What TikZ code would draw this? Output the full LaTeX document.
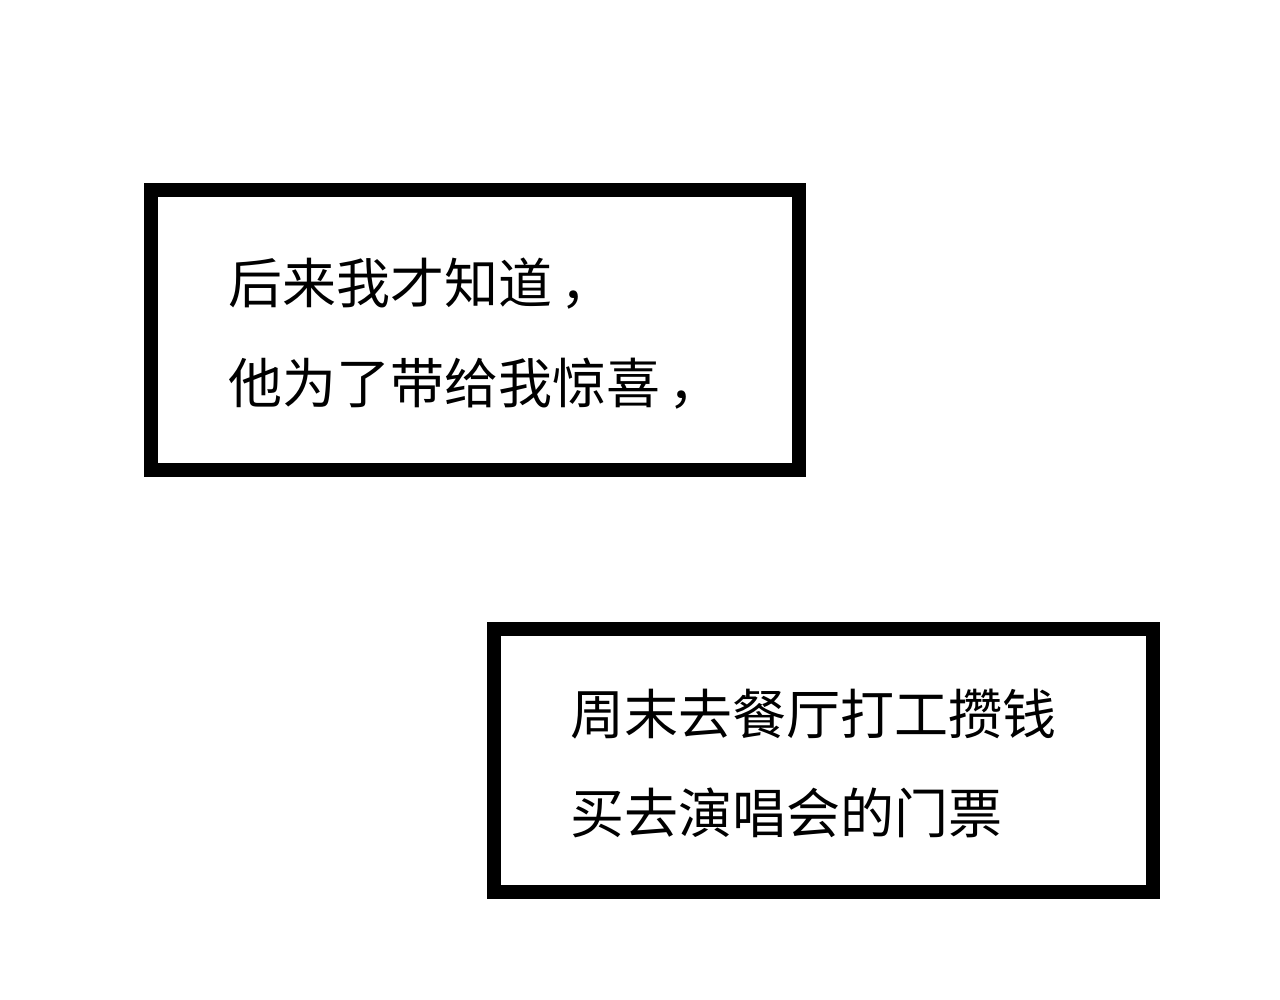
\documentclass[tikz,border=0pt]{standalone}
\usepackage{fontspec}
\newfontfamily\cjk{Noto Sans CJK SC}
\begin{document}
\begin{tikzpicture}[x=1pt,y=-1pt,
  panel/.style={draw=black, line width=14.5pt, fill=white, rectangle, inner sep=0pt, outer sep=0pt},
  caption/.style={anchor=base west, inner sep=0pt, outer sep=0pt, font=\cjk\fontsize{54}{60}\selectfont, text=black}]
\fill[white] (0,0) rectangle (1280,1000);
\useasboundingbox (0,0) rectangle (1280,1000);
\node[panel, minimum width=648pt, minimum height=280pt] (box1) at (475,330) {};
\node[panel, minimum width=659pt, minimum height=263pt] (box2) at (823.5,760.5) {};
\node[caption] (l1) at (228,304) {后来我才知道\kern0.15em，};
\node[caption] (l2) at (228,403) {他为了带给我惊喜\kern0.15em，};
\node[caption] (l3) at (570,734) {周末去餐厅打工攒钱};
\node[caption] (l4) at (570,833) {买去演唱会的门票};
\end{tikzpicture}
\end{document}
